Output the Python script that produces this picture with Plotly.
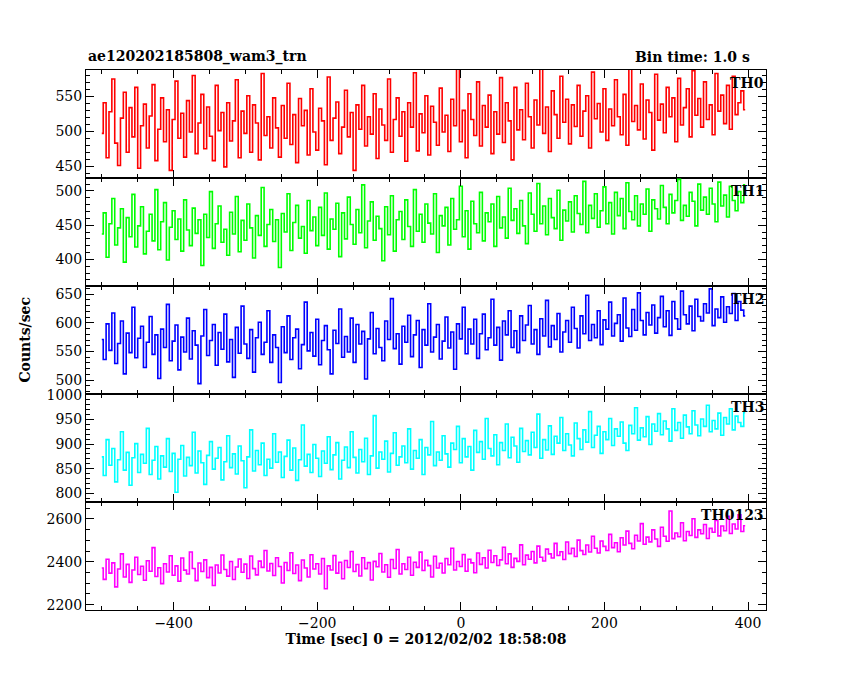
import numpy as np
import plotly.graph_objects as go
from plotly.subplots import make_subplots

time = np.arange(-500, 400, 4.0)
th0 = [497,541,462,528,575,483,451,519,556,470,534,492,563,447,508,
539,476,522,567,458,503,548,485,531,444,517,572,490,526,463,
544,499,580,468,512,553,475,535,493,458,566,501,527,449,541,
486,515,574,462,529,497,551,470,538,512,459,583,494,521,476,
548,505,463,537,490,569,481,524,455,547,508,530,466,561,499,
473,533,515,452,578,487,519,542,468,506,559,492,527,444,538,
503,566,479,521,496,554,461,532,509,487,575,470,517,548,493,
528,457,541,506,584,472,525,498,551,466,536,513,480,562,499,
523,471,546,508,589,485,530,462,554,517,494,571,479,537,506,
552,468,528,496,577,484,541,515,459,563,502,531,488,569,521,
476,545,509,592,497,535,471,558,524,490,579,513,546,482,538,
507,566,493,529,551,476,585,518,540,499,561,487,532,508,574,
521,495,553,480,591,514,537,502,568,489,545,527,473,582,516,
539,498,563,521,548,485,576,509,534,561,492,587,523,547,506,
571,517,538,495,583,529,552,511,566,503,579,524,541,558,531]
th1 = [437,468,403,452,489,421,446,474,396,461,433,495,418,449,477,
408,441,466,427,502,414,455,483,399,447,471,429,459,412,487,
443,420,475,438,458,391,466,432,499,416,452,478,425,444,406,
469,437,492,411,457,428,481,446,402,464,435,505,419,451,473,
426,458,388,467,440,496,413,454,479,431,448,409,486,442,462,
420,476,435,497,415,459,444,482,404,468,430,491,451,422,473,
439,509,417,456,484,428,463,445,398,477,436,493,412,458,470,
429,487,448,419,502,441,466,425,481,453,437,496,410,464,449,
476,421,489,444,458,507,433,471,415,485,452,439,498,427,468,
455,481,419,492,446,462,431,504,457,474,438,486,449,423,497,
466,441,511,452,478,436,489,461,445,501,428,472,456,484,440,
493,467,451,514,439,479,460,496,447,471,506,452,483,437,498,
464,489,445,512,470,458,493,449,481,466,503,441,487,474,459,
508,476,452,495,468,486,517,457,479,463,498,485,449,510,472,
491,466,504,481,455,513,478,494,462,507,486,471,499,483,509]
th2 = [571,536,598,552,617,529,564,603,511,582,548,627,539,573,594,
522,566,611,545,579,503,589,557,632,534,568,596,518,575,549,
608,537,586,561,494,577,623,543,569,597,526,583,554,615,532,
571,505,592,547,629,563,538,588,514,574,601,545,566,621,531,
579,557,496,593,548,612,536,574,589,520,562,636,551,583,542,
606,527,569,595,553,511,587,564,624,540,576,549,608,531,597,
563,585,502,572,618,546,590,557,534,603,571,642,555,581,528,
594,566,613,541,579,604,522,588,561,633,549,575,597,537,568,
610,556,584,519,598,572,627,546,589,563,606,538,581,615,553,
574,641,561,592,535,603,579,621,557,586,548,612,569,596,630,
563,588,545,607,577,639,558,595,571,616,549,584,604,566,627,
590,556,612,581,648,569,597,574,621,562,605,589,636,577,599,
614,568,643,591,576,623,587,652,604,579,618,596,631,582,609,
646,593,621,578,637,607,589,655,614,598,629,586,641,611,603,
633,617,659,595,624,609,645,601,628,616,651,604,637,622,612]
th3 = [874,836,909,857,891,823,868,925,847,883,816,872,901,842,879,
861,932,838,867,895,829,876,853,911,844,881,802,869,897,835,
873,856,924,841,886,862,818,877,905,849,871,893,827,864,917,
852,880,839,896,866,811,874,929,845,887,858,902,836,869,851,
921,863,884,832,875,908,847,892,826,868,939,855,879,842,899,
871,834,886,861,915,848,878,903,829,867,894,852,925,873,841,
889,864,912,838,876,958,851,884,869,906,843,881,923,857,874,
896,862,931,849,887,871,909,838,893,878,946,856,884,867,917,
880,853,902,889,936,862,911,874,895,847,928,883,905,869,952,
891,876,919,858,903,887,941,872,914,896,863,932,885,907,878,
924,893,961,871,909,888,937,879,916,902,954,887,921,898,876,
943,911,889,929,904,966,893,918,936,881,925,909,952,897,931,
916,945,902,887,938,921,974,908,933,915,956,899,941,926,962,
919,947,931,906,972,928,944,912,959,935,921,968,939,917,951,
936,979,925,948,931,963,918,954,941,972,929,957,944,936,964]
th0123 = [2371,2318,2412,2347,2395,2283,2366,2437,2329,2388,2304,2362,2421,2341,2379,
2314,2405,2356,2466,2331,2372,2298,2391,2352,2428,2337,2381,2309,2418,2361,
2343,2446,2369,2312,2394,2355,2409,2326,2374,2289,2385,2348,2432,2364,2333,
2401,2317,2376,2413,2351,2389,2322,2427,2368,2339,2403,2374,2453,2357,2392,
2336,2419,2378,2301,2397,2359,2442,2345,2385,2312,2408,2371,2329,2433,2366,
2391,2343,2415,2274,2381,2362,2429,2347,2398,2321,2406,2373,2448,2355,2387,
2334,2419,2368,2396,2315,2402,2377,2439,2352,2386,2328,2411,2369,2457,2343,
2391,2364,2421,2337,2398,2374,2445,2359,2407,2382,2329,2426,2371,2393,2348,
2415,2386,2463,2362,2401,2378,2434,2356,2412,2395,2349,2441,2388,2419,2371,
2454,2397,2428,2383,2409,2468,2391,2437,2374,2416,2402,2479,2386,2431,2412,
2448,2395,2473,2421,2404,2459,2437,2418,2486,2429,2447,2411,2492,2438,2463,
2425,2501,2452,2434,2478,2446,2519,2463,2441,2497,2472,2453,2528,2466,2489,
2447,2512,2478,2543,2486,2461,2524,2497,2578,2482,2515,2493,2549,2506,2472,
2561,2519,2496,2637,2508,2534,2517,2582,2498,2541,2523,2601,2514,2549,2531,
2574,2509,2556,2538,2593,2521,2567,2545,2612,2532,2576,2553,2619,2541,2568]

labels = ["TH0", "TH1", "TH2", "TH3", "TH0123"]
series = [th0, th1, th2, th3, th0123]
colors = ["#ff0000", "#00ff00", "#0000ff", "#00ffff", "#ff00ff"]
yranges = [[433, 588], [361, 519], [476, 664], [782, 1002], [2175, 2679]]
dticks = [50, 50, 50, 50, 200]

FONT = "DejaVu Serif"
fig = make_subplots(rows=5, cols=1, shared_xaxes=True, vertical_spacing=0)
for i, (lab, s, c) in enumerate(zip(labels, series, colors)):
    r = i + 1
    fig.add_trace(go.Scatter(x=time, y=s, mode="lines", line=dict(color=c, width=1.6, shape="hvh"),
                             showlegend=False), row=r, col=1)
    fig.update_yaxes(range=yranges[i], dtick=dticks[i], row=r, col=1)
    fig.add_annotation(text="<b>" + lab + "</b>", xref="x domain",
                       yref="y domain" if r == 1 else f"y{r} domain",
                       x=1, y=0.97, xanchor="right", yanchor="top", showarrow=False,
                       font=dict(family=FONT, size=14, color="black"))

axstyle = dict(showline=True, linecolor="black", linewidth=1, mirror="allticks", ticks="inside",
               ticklen=8, tickcolor="black", showgrid=False, zeroline=False, automargin=False,
               tickfont=dict(family=FONT, size=14, color="black"),
               minor=dict(ticks="inside", ticklen=4, tickcolor="black"))
fig.update_xaxes(**axstyle, range=[-522, 425], dtick=200)
fig.update_yaxes(**axstyle)
fig.update_xaxes(title=dict(text="<b>Time [sec] 0 = 2012/02/02 18:58:08</b>", standoff=0,
                            font=dict(family=FONT, size=14, color="black")), row=5, col=1)

fig.add_annotation(text="<b>ae120202185808_wam3_trn</b>", xref="paper", yref="paper", x=0, y=1.005,
                   xanchor="left", yanchor="bottom", showarrow=False,
                   font=dict(family=FONT, size=14, color="black"))
fig.add_annotation(text="<b>Bin time: 1.0 s</b>", xref="paper", yref="paper", x=0.98, y=1.005,
                   xanchor="right", yanchor="bottom", showarrow=False,
                   font=dict(family=FONT, size=14, color="black"))
fig.add_annotation(text="<b>Counts/sec</b>", xref="paper", yref="paper", x=-0.105, y=0.5,
                   textangle=-90, showarrow=False, font=dict(family=FONT, size=14, color="black"))

fig.update_layout(width=850, height=680, plot_bgcolor="white", paper_bgcolor="white",
                  margin=dict(l=78, r=92, t=62, b=78))
fig.write_html("out.html")
